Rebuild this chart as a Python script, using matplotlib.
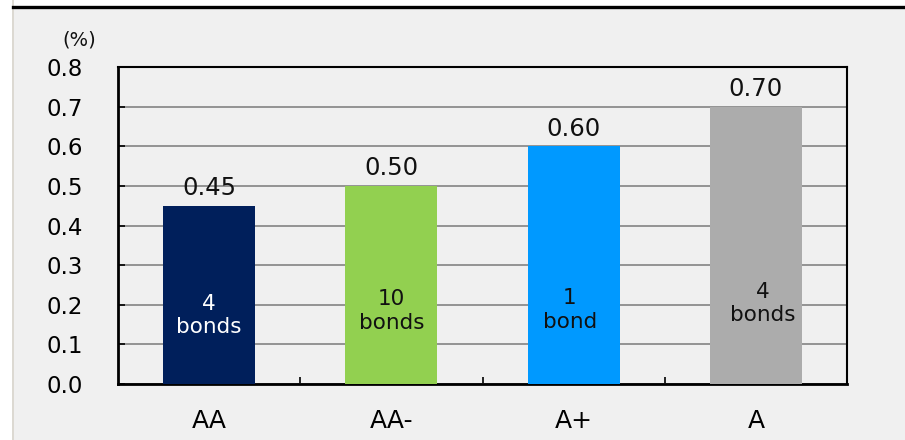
import numpy as np
import matplotlib.pyplot as plt
from matplotlib.patches import Rectangle
from matplotlib.lines import Line2D

ratings = ['AA', 'AA-', 'A+', 'A']
spreads = [0.45, 0.50, 0.60, 0.70]
bond_labels = ['4\nbonds', '10\nbonds', '1\nbond', '4\nbonds']
colors = ['#001f5b', '#92d050', '#0099ff', '#acacac']
inner_colors = ['white', '#111111', '#111111', '#111111']
inner_y = [0.172, 0.184, 0.187, 0.204]
inner_dx = [0.0, 0.0, -0.02, 0.04]

plt.rcParams['font.family'] = ['DejaVu Sans']

fig = plt.figure(figsize=(9.05, 4.4), dpi=100)
fig.patch.set_facecolor('#f0f0f0')

# page frame bits: white strip on the left, black rule at the top
W, H = 905, 440
fig.patches.append(Rectangle((0, 0), 12 / W, 1, transform=fig.transFigure,
                             facecolor='white', edgecolor='none', zorder=0))
fig.patches.append(Rectangle((0, 1 - 7 / H), 1, 7 / H, transform=fig.transFigure,
                             facecolor='white', edgecolor='none', zorder=0))
fig.lines.append(Line2D([12.5 / W, 12.5 / W], [0, 1], transform=fig.transFigure,
                        color='#d9d5cd', lw=1.2))
fig.lines.append(Line2D([13 / W, 1], [1 - 7.5 / H, 1 - 7.5 / H], transform=fig.transFigure,
                        color='black', lw=2.4))

ax = fig.add_axes([118 / W, 56 / H, 729 / W, 317 / H])
ax.set_facecolor('#f0f0f0')

x = np.arange(len(ratings))
bars = ax.bar(x, spreads, width=0.505, color=colors, zorder=3)
ax.bar_label(bars, labels=[f'{v:.2f}' for v in spreads], padding=4,
             fontsize=17.5, color='#111111')

for i, lab in enumerate(bond_labels):
    ax.text(x[i] + inner_dx[i], inner_y[i], lab, ha='center', va='center',
            fontsize=15.5, color=inner_colors[i], linespacing=1.2, zorder=4)

ax.set_xlim(-0.5, len(ratings) - 0.5)
ax.set_ylim(0, 0.8)
ax.set_yticks(np.arange(0, 0.81, 0.1))
ax.set_yticklabels([f'{v:.1f}' for v in np.arange(0, 0.81, 0.1)])
ax.set_xticks(x)
ax.set_xticklabels(ratings)
ax.set_xticks([0.5, 1.5, 2.5], minor=True)

ax.tick_params(axis='y', direction='in', length=5, width=1.2, labelsize=16.5,
               pad=25, colors='black')
ax.tick_params(axis='x', which='major', length=0, labelsize=18, pad=18)
ax.tick_params(axis='x', which='minor', direction='in', length=5, width=1.2)

ax.grid(axis='y', color='#8c8c8c', lw=1.3, zorder=1)
ax.set_axisbelow(True)

for side in ['left', 'bottom']:
    ax.spines[side].set_linewidth(2)
for side in ['top', 'right']:
    ax.spines[side].set_linewidth(1.5)

fig.text(79 / W, 1 - 40 / H, '(%)', ha='center', va='center', fontsize=14,
         color='#111111')

fig.savefig('out.png', dpi=100, facecolor=fig.get_facecolor())
